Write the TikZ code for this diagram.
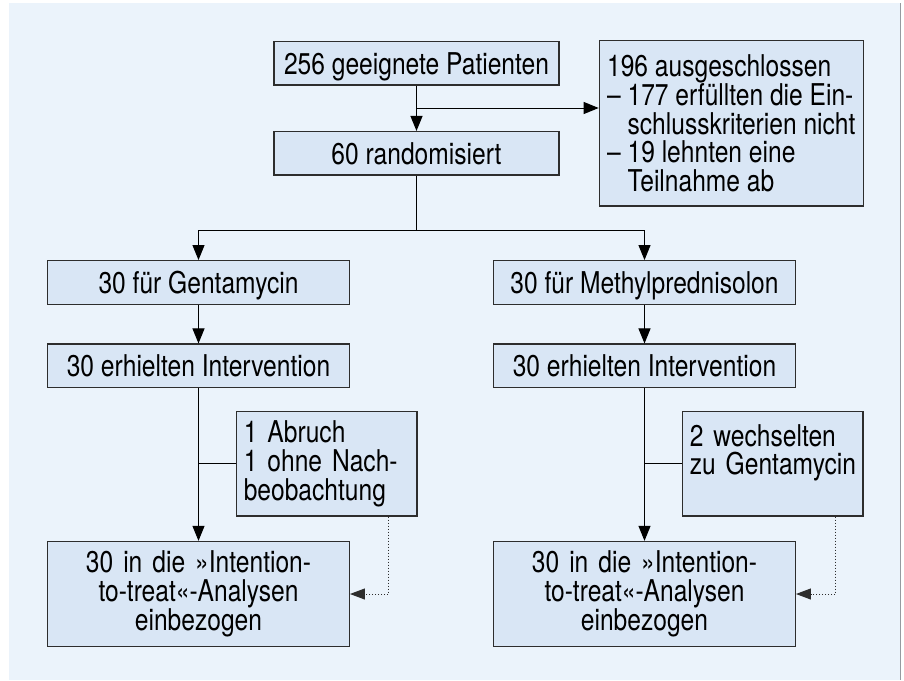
\documentclass[tikz,border=0pt]{standalone}
\usepackage{fontspec}
\setmainfont[FakeStretch=0.82]{TeX Gyre Heros}
\usetikzlibrary{arrows.meta,positioning,calc}
\definecolor{FlowPanel}{RGB}{235,243,251}
\definecolor{FlowFill}{RGB}{217,230,245}
\definecolor{FlowEdge}{RGB}{45,45,45}
\definecolor{FlowGray}{RGB}{150,154,160}
\newcommand{\flowfont}{\fontsize{30}{28.8}\selectfont}
\tikzset{
  flow/box/.style={
    draw=FlowEdge,
    line width=1.3pt,
    fill=FlowFill,
    text=black,
    font=\flowfont,
    inner xsep=7pt,
    inner ysep=0pt
  },
  flow/top/.style={flow/box, minimum width=285pt, minimum height=43.4pt, text height=21.9pt, text depth=0pt},
  flow/arm/.style={flow/box, minimum width=301.6pt, minimum height=43.6pt, text height=21.9pt, text depth=0pt},
  flow/note/.style={flow/box, align=left, text width=166.3pt, minimum height=104.3pt},
  flow/itt/.style={flow/box, align=center, text width=287.6pt, minimum height=105pt},
  flow/excl/.style={flow/box, align=left, minimum width=264pt, minimum height=165.3pt},
  flow/arrow/.style={-{Triangle[length=15pt,width=12pt]}, line width=1pt, draw=black},
  flow/line/.style={line width=1pt, draw=black},
  flow/dotarrow/.style={-{Triangle[length=15pt,width=11pt]}, line width=1pt, draw=FlowEdge, dash pattern=on 1pt off 2pt}
}

\begin{document}
\begin{tikzpicture}[x=1pt,y=-1pt]
  \useasboundingbox (0,0) rectangle (904,680);
  \fill[FlowPanel] (9,3) rectangle (900.5,680);
  \draw[FlowGray,line width=1.5pt] (900.5,3) -- (900.5,680);

  \node[flow/top] (pat) at (416.5,63.3) {256 geeignete Patienten};
  \node[flow/excl] (excl) at (731.3,123.4) {196 ausgeschlossen\\
    – 177 erfüllten die Ein-\\
    \phantom{– }schlusskriterien nicht\\
    – 19 lehnten eine\\
    \phantom{– }Teilnahme ab};
  \node[flow/top] (rand) at (416.5,153.3) {60 randomisiert};
  \node[flow/arm] (gent) at (198.5,282.5) {30 für Gentamycin};
  \node[flow/arm] (meth) at (644.5,282.5) {30 für Methylprednisolon};
  \node[flow/arm] (gint) at (198.5,365.9) {30 erhielten Intervention};
  \node[flow/arm] (mint) at (644.5,365.9) {30 erhielten Intervention};
  \node[flow/note] (gdrop) at (326.9,463.9) {1 Abruch\\1 ohne Nach-\\beobachtung};
  \node[flow/note] (mdrop) at (772.9,463.9) {2 wechselten\\zu Gentamycin\\\mbox{}};
  \node[flow/itt] (gitt) at (198.5,594) {30 in die »Intention-\\to-treat«-Analysen\\einbezogen};
  \node[flow/itt] (mitt) at (644.5,594) {30 in die »Intention-\\to-treat«-Analysen\\einbezogen};

  \coordinate (exsplit) at (416.5,108);
  \coordinate (split) at (416.5,230);

  \draw[flow/arrow] (pat) -- (rand);
  \draw[flow/arrow] (exsplit) -- (exsplit -| excl.west);
  \draw[flow/line] (rand.south) -- (split);
  \draw[flow/arrow] (split) -| (gent.north);
  \draw[flow/arrow] (split) -| (meth.north);
  \draw[flow/arrow] (gent) -- (gint);
  \draw[flow/arrow] (meth) -- (mint);
  \draw[flow/arrow] (gint) -- (gitt);
  \draw[flow/arrow] (mint) -- (mitt);
  \draw[flow/line] (gdrop.west) -- (gdrop.west -| gint.south);
  \draw[flow/line] (mdrop.west) -- (mdrop.west -| mint.south);
  \draw[flow/dotarrow] ([xshift=-29pt]gdrop.south east) |- (gitt.east);
  \draw[flow/dotarrow] ([xshift=-28pt]mdrop.south east) |- (mitt.east);
\end{tikzpicture}
\end{document}
